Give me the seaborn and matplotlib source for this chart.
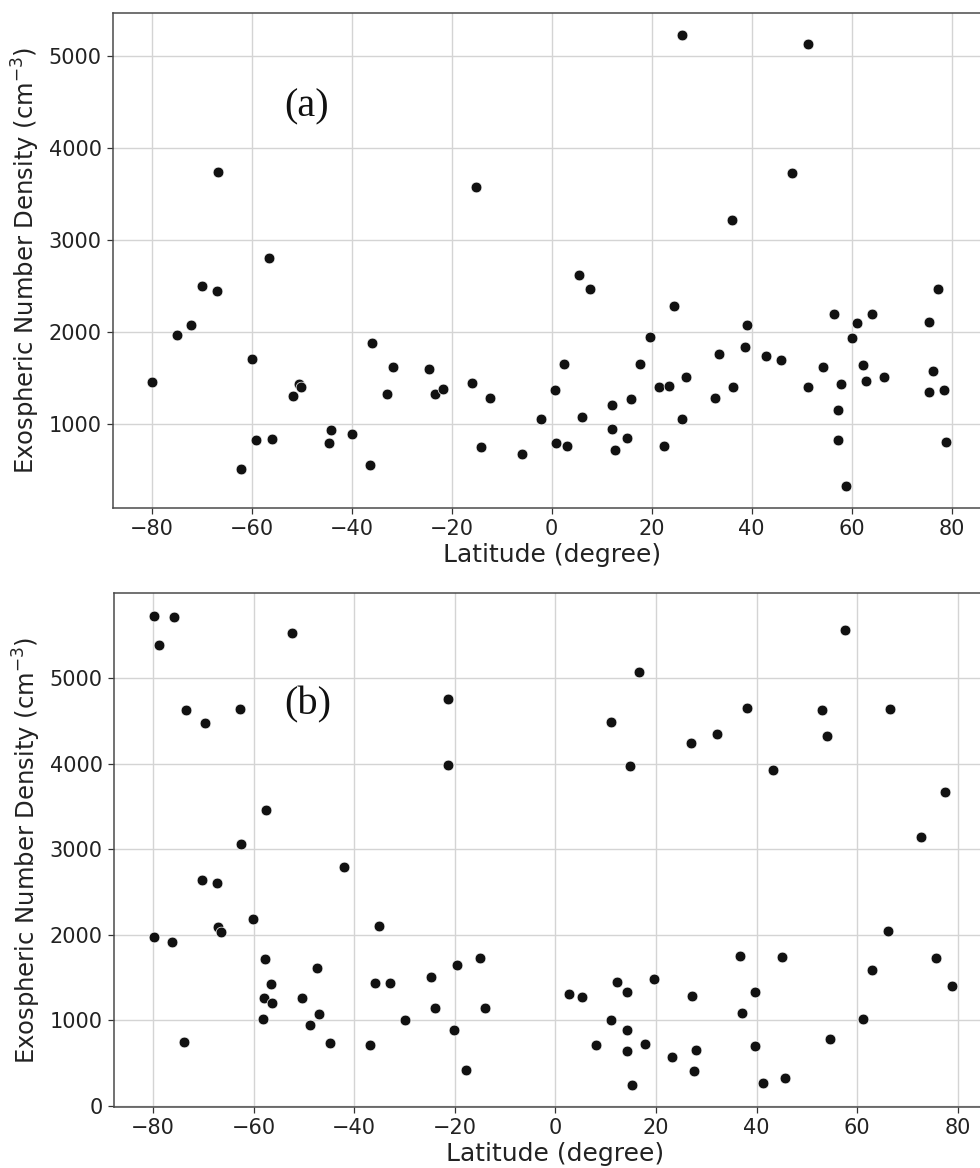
import numpy as np
import pandas as pd
import matplotlib
matplotlib.use("Agg")
import matplotlib.pyplot as plt
import seaborn as sns

# -----------------------------
# DATA
# -----------------------------
lat_a = [-79.9, -75.0, -72.2, -70.0, -67.0, -66.7, -62.1, -59.9, -59.1, -56.5,
         -56.0, -51.7, -50.5, -50.1, -44.5, -44.1, -39.9, -36.3, -35.9, -33.0,
         -31.7, -24.5, -23.4, -21.7, -15.9, -15.2, -14.1, -12.3, -6.0, -2.1,
         0.6, 0.9, 2.5, 3.1, 5.5, 6.1, 7.7, 12.1, 12.1, 12.6,
         15.1, 15.9, 17.7, 19.6, 21.5, 22.4, 23.5, 24.5, 26.0, 26.1,
         26.9, 32.7, 33.4, 36.0, 36.3, 38.7, 39.1, 42.8, 45.8, 48.1,
         51.2, 51.3, 54.2, 56.5, 57.3, 57.3, 57.8, 58.9, 60.0, 61.1,
         62.2, 62.9, 64.1, 66.4, 75.5, 75.5, 76.2, 77.3, 78.5, 78.8]
dens_a = [1456, 1970, 2078, 2505, 2450, 3745, 511, 1713, 829, 2810,
          840, 1304, 1434, 1408, 797, 935, 891, 561, 1880, 1329,
          1626, 1597, 1333, 1380, 1445, 3580, 757, 1289, 677, 1054,
          1369, 800, 1658, 761, 2625, 1076, 2470, 1206, 952, 721,
          855, 1272, 1652, 1945, 1408, 764, 1413, 2285, 5225, 1054,
          1517, 1289, 1767, 3222, 1405, 1843, 2082, 1739, 1695, 3733,
          1408, 5135, 1626, 2198, 1155, 826, 1438, 333, 1937, 2104,
          1644, 1470, 2198, 1514, 2111, 1348, 1579, 2470, 1376, 811]

lat_b = [-79.9, -78.8, -75.8, -52.4, -73.5, -69.7, -62.8, -21.4, -21.4, -57.6,
         -62.6, -42.1, -70.2, -67.4, -60.1, -67.1, -66.6, -79.9, -76.3, -35.1,
         -57.8, -47.4, -56.5, -35.8, -32.9, -24.8, -19.5, -15.0, -58.0, -56.4,
         -50.5, -47.0, -48.8, -58.2, -44.8, -73.8, -36.8, -29.9, -24.0, -14.0,
         -20.2, -17.7,
         57.6, 16.7, 11.0, 14.8, 27.0, 32.1, 38.1, 43.3, 53.1, 54.1,
         66.6, 77.5, 72.7, 66.1, 36.8, 45.0, 75.6, 63.0, 78.9, 19.7,
         12.3, 14.3, 2.7, 5.3, 27.1, 39.6, 37.1, 11.0, 61.1, 14.2,
         8.1, 17.8, 14.2, 39.7, 54.7, 23.2, 28.0, 27.6, 15.2, 41.3,
         45.6]
dens_b = [5725, 5393, 5713, 5526, 4633, 4477, 4641, 4758, 3986, 3464,
          3066, 2794, 2646, 2607, 2186, 2096, 2034, 1972, 1921, 2104,
          1722, 1610, 1430, 1442, 1442, 1508, 1652, 1727, 1259, 1204,
          1263, 1072, 943, 1013, 733, 752, 717, 1005, 1142, 1149,
          888, 425,
          5568, 5077, 4489, 3971, 4240, 4345, 4656, 3931, 4629, 4325,
          4641, 3674, 3148, 2046, 1757, 1745, 1734, 1586, 1406, 1485,
          1446, 1336, 1313, 1271, 1290, 1336, 1091, 1002, 1021, 888,
          717, 725, 647, 705, 779, 569, 651, 413, 245, 265,
          324]

panel_labels = ["(a)", "(b)"]

df_a = pd.DataFrame({"lat": lat_a, "dens": dens_a})
df_b = pd.DataFrame({"lat": lat_b, "dens": dens_b})

# -----------------------------
# STYLE
# -----------------------------
sns.set_style("whitegrid", {
    "grid.color": "#d4d4d4",
    "axes.edgecolor": "#4a4a4a",
    "xtick.bottom": True,
    "ytick.left": True,
    "xtick.color": "#333333",
    "ytick.color": "#333333",
})
plt.rcParams["font.family"] = ["DejaVu Sans"]

fig = plt.figure(figsize=(9.8, 11.68), dpi=100)

# axes run past the right edge of the figure, as in the cropped original
ax_a = fig.add_axes([0.115, 0.5651, 0.8969, 0.4235])
ax_b = fig.add_axes([0.1163, 0.0522, 0.9009, 0.4398])

panels = [
    (ax_a, df_a, (-87.8, 88.0), (91, 5464), (0.22, 0.81)),
    (ax_b, df_b, (-87.8, 87.8), (-12, 5994), (0.22, 0.783)),
]

for (ax, df, xl, yl, lab_pos), lab in zip(panels, panel_labels):
    sns.scatterplot(data=df, x="lat", y="dens", ax=ax, color="#111111",
                    s=60, edgecolor="white", linewidth=0.5, zorder=3)
    ax.set_xlim(*xl)
    ax.set_ylim(*yl)
    ax.set_xticks(np.arange(-80, 81, 20))
    ax.set_xlabel("Latitude (degree)", fontsize=18, color="#222222", labelpad=3)
    ax.set_ylabel("Exospheric Number Density (cm$^{-3}$)", fontsize=17.5,
                  color="#222222", labelpad=5)
    ax.tick_params(labelsize=15, length=4, width=0.9, pad=4, labelcolor="#222222")
    for side in ["left", "bottom", "top"]:
        ax.spines[side].set_linewidth(1.1)
    ax.grid(True, linewidth=1.0)
    ax.text(lab_pos[0], lab_pos[1], lab, transform=ax.transAxes,
            fontsize=29, family="Liberation Serif", color="#111111",
            ha="center", va="center")

plt.savefig("out.png", dpi=100)
